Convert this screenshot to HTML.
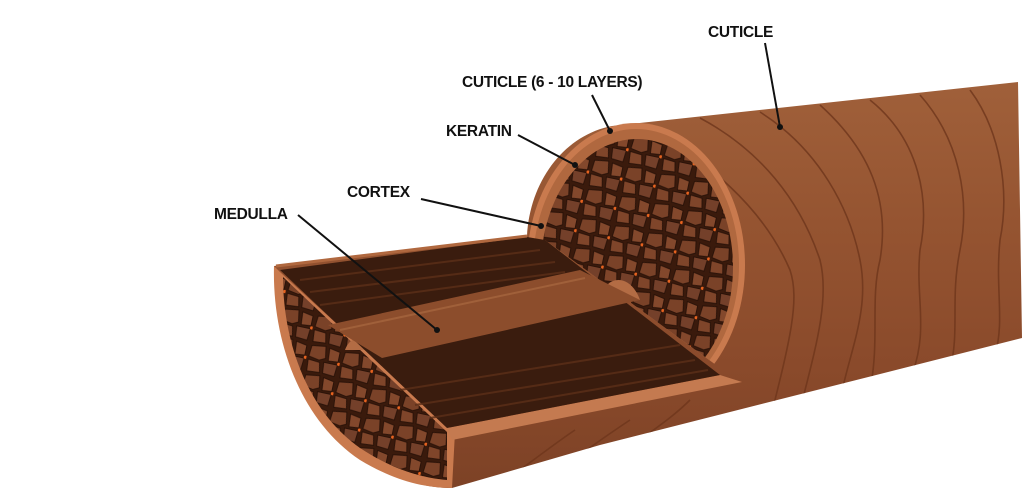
<!DOCTYPE html>
<html><head><meta charset="utf-8"><style>
html,body{margin:0;padding:0;background:#fff;}
svg{display:block}
text{font-family:"Liberation Sans",Arial,sans-serif;font-weight:bold;font-size:15.5px;fill:#111;letter-spacing:-0.3px;}
</style></head><body>
<svg width="1024" height="504" viewBox="0 0 1024 504" xmlns="http://www.w3.org/2000/svg">
<defs>
<pattern id="cells" width="34" height="30" patternUnits="userSpaceOnUse" patternTransform="rotate(12)">
<rect width="34" height="30" fill="#3a1a0c"/>
<path d="M3,3 L17,1 L19,13 L13,16 L2,14 Z" fill="#7a4228" stroke="#2a1208" stroke-width="1"/>
<path d="M21,2 L32,4 L32,14 L22,15 Z" fill="#83482c" stroke="#2a1208" stroke-width="1"/>
<path d="M2,17 L14,18 L16,28 L3,29 Z" fill="#7f452a" stroke="#2a1208" stroke-width="1"/>
<path d="M18,17 L32,17 L31,29 L19,28 Z" fill="#74402a" stroke="#2a1208" stroke-width="1"/>
<circle cx="33" cy="16" r="1.6" fill="#e8631f"/>
</pattern>
<linearGradient id="body" x1="0" y1="0" x2="0" y2="1">
<stop offset="0" stop-color="#a0603a"/><stop offset="0.35" stop-color="#955431"/><stop offset="0.7" stop-color="#8a4a2b"/><stop offset="1" stop-color="#7d4226"/>
</linearGradient>
<clipPath id="upper"><path d="M500,90 L780,90 L780,390 L742,384 L545,240 L500,240 Z"/></clipPath>
<clipPath id="sil"><path d="M527,236 C530,180 565,135 612,126 L1018,82 L1022,338 L600,445 L452,488 C380,488 290,430 274,266 Z"/></clipPath>
</defs>
<path d="M527,236 C530,180 565,135 612,126 L1018,82 L1022,338 L600,445 L452,488 C380,488 290,430 274,266 Z" fill="url(#body)"/>
<g fill="none" stroke="#6e361c" stroke-width="1.6" opacity="0.8" clip-path="url(#sil)">
<path d="M650,125 C700,160 760,200 790,270 C800,300 790,340 770,420"/>
<path d="M700,118 C760,150 800,200 820,260 C830,300 815,350 800,410"/>
<path d="M760,112 C820,150 850,210 860,260 C870,310 850,350 840,400"/>
<path d="M820,105 C870,150 890,200 880,260 C870,300 880,340 870,390"/>
<path d="M870,100 C920,140 930,200 920,250 C915,300 930,330 910,380"/>
<path d="M920,95 C960,140 970,200 960,250 C950,300 960,330 950,370"/>
<path d="M970,90 C1000,130 1010,190 1000,240 C995,290 1005,320 995,355"/>
<path d="M520,470 C540,455 560,440 575,430"/><path d="M580,455 C600,440 615,430 630,420"/><path d="M640,440 C660,425 675,415 690,400"/>
</g>
<g clip-path="url(#upper)">
<ellipse cx="636" cy="265" rx="109" ry="142" fill="#c97a4e"/>
<ellipse cx="636" cy="265" rx="103" ry="136" fill="#b0683f"/>
<ellipse cx="637" cy="267" rx="96" ry="128" fill="url(#cells)"/>
<path d="M602,296 C605,276 630,272 640,300 Z" fill="#b36c44"/>
</g>
<path d="M274,266 C272,340 300,420 360,460 C390,478 420,488 452,488 L455,432 L280,272 Z" fill="#c97a4e"/>
<path d="M283,277 C283,340 306,410 360,448 C390,468 420,478 447,480 L447,432 Z" fill="url(#cells)"/>
<path d="M345,350 C350,335 370,330 382,350 Z" fill="#b36c44"/>
<path d="M447,428 L720,375 L742,382 L452,440 Z" fill="#c47a50"/>
<path d="M280,270 L527,237 L545,240 L720,375 L447,428 Z" fill="#3a1c0e"/>
<g stroke="#5c2f18" stroke-width="2" opacity="0.8">
<path d="M300,280 L540,250"/><path d="M310,292 L555,262"/><path d="M320,305 L565,272"/><path d="M400,390 L680,345"/><path d="M415,405 L695,360"/><path d="M430,418 L708,370"/>
</g>
<path d="M328,325 L580,270 L640,300 L382,358 Z" fill="#8c4d2c"/>
<path d="M340,330 L585,278" stroke="#a0603a" stroke-width="2"/>
<path d="M276,266 L527,236" stroke="#b0683f" stroke-width="3"/>
<text x="708" y="37">CUTICLE</text>
<text x="462" y="87">CUTICLE (6 - 10 LAYERS)</text>
<text x="446" y="136">KERATIN</text>
<text x="347" y="197">CORTEX</text>
<text x="214" y="219">MEDULLA</text>
<g stroke="#111" stroke-width="2" fill="none">
<path d="M765,43 L780,127"/><path d="M592,95 L610,131"/><path d="M518,135 L575,165"/><path d="M421,199 L541,226"/><path d="M298,215 L437,330"/>
</g>
<g fill="#111"><circle cx="780" cy="127" r="3"/><circle cx="610" cy="131" r="3"/><circle cx="575" cy="165" r="3"/><circle cx="541" cy="226" r="3"/><circle cx="437" cy="330" r="3"/></g>
</svg>
</body></html>
